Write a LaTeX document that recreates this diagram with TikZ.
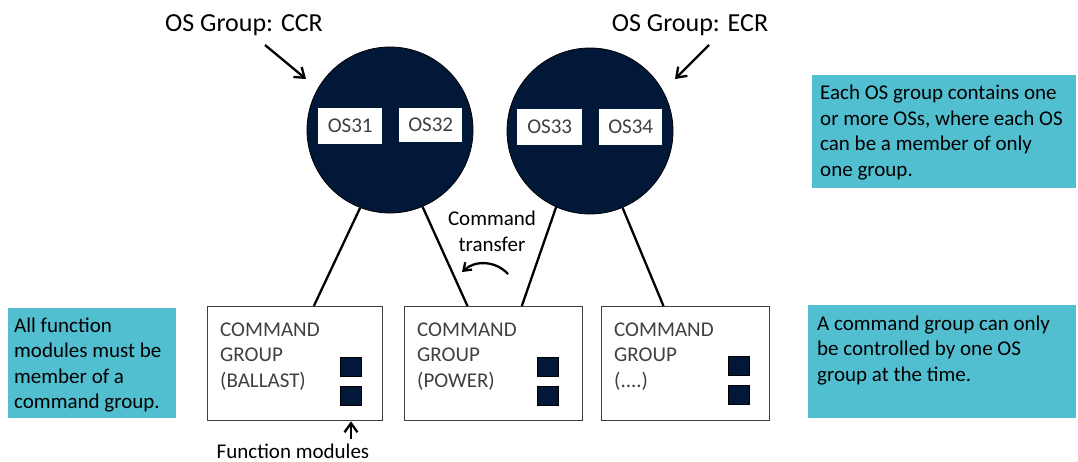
\documentclass[tikz,border=0pt]{standalone}
\usepackage{fontspec}
\setmainfont{Carlito}
\usetikzlibrary{arrows.meta,calc}
\definecolor{navy}{HTML}{011839}
\definecolor{tealbox}{HTML}{52BFD1}
\definecolor{txtgray}{HTML}{404040}
\newcommand\mylines[1]{\begin{tabular}[t]{@{}l@{}}#1\end{tabular}}
\newcommand\mylinesc[1]{\begin{tabular}[t]{@{}c@{}}#1\end{tabular}}
\begin{document}
\begin{tikzpicture}[x=1pt,y=-1pt,
  txt/.style={inner sep=0pt, anchor=base west, font=\fontsize{21}{25.5}\selectfont},
  title/.style={inner sep=0pt, anchor=base, font=\fontsize{26}{31}\selectfont},
  osgroup/.style={circle, minimum size=166pt, inner sep=0pt, fill=navy, draw=black, line width=0.8pt},
  osbox/.style={rectangle, anchor=north west, inner sep=0pt, fill=white, text=txtgray, font=\fontsize{21}{25.5}\selectfont},
  cmdbox/.style={rectangle, anchor=north west, inner sep=0pt, draw=txtgray, line width=1.3pt, fill=white, minimum height=114pt},
  fmod/.style={rectangle, anchor=north west, inner sep=0pt, fill=navy, draw=black, line width=0.4pt, minimum width=21pt, minimum height=18.5pt},
  note/.style={rectangle, anchor=north west, inner sep=0pt, fill=tealbox},
  link/.style={draw=black, line width=2.3pt},
  arr/.style={draw=black, line width=2.3pt, -{Straight Barb[length=9pt,width=13pt,line width=2.3pt]}},
  arrs/.style={draw=black, line width=2.3pt, -{Straight Barb[length=7pt,width=10pt,line width=2.3pt]}}
]
\useasboundingbox (0,0) rectangle (1078,462);

% titles
\node[title] (tccr) at (244,32) {OS Group: CCR};
\node[title] (tecr) at (690,32) {OS Group: ECR};

% OS groups
\node[osgroup] (cA) at (390,130) {};
\node[osgroup] (cB) at (590,131) {};

\node[osbox, minimum width=64pt, minimum height=36pt] (os31) at (318,108) {OS31};
\node[osbox, minimum width=63pt, minimum height=34pt] (os32) at (399,108) {OS32};
\node[osbox, minimum width=65pt, minimum height=36pt] (os33) at (517,109) {OS33};
\node[osbox, minimum width=63pt, minimum height=36pt] (os34) at (599,109) {OS34};

% arrows to groups
\coordinate (ccrTail) at (265,45);
\coordinate (ccrTip) at (306,79);
\coordinate (ecrTail) at (709,45);
\coordinate (ecrTip) at (675,79);
\draw[arr] (ccrTail) -- (ccrTip);
\draw[arr] (ecrTail) -- (ecrTip);

% command group boxes
\node[cmdbox, minimum width=175pt] (b1) at (207,306) {};
\node[cmdbox, minimum width=178pt] (b2) at (404,306) {};
\node[cmdbox, minimum width=168pt] (b3) at (601,306) {};

\node[txt, text=txtgray] (b1t) at (220,336) {\mylines{COMMAND\\GROUP\\(BALLAST)}};
\node[txt, text=txtgray] (b2t) at (417,336) {\mylines{COMMAND\\GROUP\\(POWER)}};
\node[txt, text=txtgray] (b3t) at (614,336) {\mylines{COMMAND\\GROUP\\(....)}};

% function modules
\node[fmod] (f11) at (340,357) {};
\node[fmod] (f12) at (340,386) {};
\node[fmod] (f21) at (537,357) {};
\node[fmod] (f22) at (537,386) {};
\node[fmod] (f31) at (728,356) {};
\node[fmod] (f32) at (728,385) {};

% links
\draw[link] (cA.249) -- ($(b1.north west)!0.606!(b1.north east)$);
\draw[link] (cA.293) -- ($(b2.north west)!0.354!(b2.north east)$);
\draw[link] (cB.246.5) -- ($(b2.north west)!0.657!(b2.north east)$);
\draw[link] (cB.293.5) -- ($(b3.north west)!0.369!(b3.north east)$);

% command transfer
\node[txt, anchor=base] (ctxt) at (492,226) {\mylinesc{Command\\transfer}};
\coordinate (ctA) at (508,274);
\coordinate (ctB) at (462,272);
\draw[arrs] (ctA) to[bend right=45] (ctB);

% function modules label
\node[txt, anchor=base] (fml) at (293,458) {Function modules};
\coordinate (fmTail) at (351,439);
\draw[arr] (fmTail) -- (fmTail |- b1.south);

% notes
\node[note, minimum width=264pt, minimum height=113pt] (n1) at (812,75) {};
\node[txt] (n1t) at (820,100) {\mylines{Each OS group contains one\\or more OSs, where each OS\\can be a member of only\\one group.}};

\node[note, minimum width=268pt, minimum height=113pt] (n2) at (808,305) {};
\node[txt] (n2t) at (817,330) {\mylines{A command group can only\\be controlled by one OS\\group at the time.}};

\node[note, minimum width=168pt, minimum height=110pt] (n3) at (8,308) {};
\node[txt] (n3t) at (14,332) {\mylines{All function\\modules must be\\member of a\\command group.}};
\end{tikzpicture}
\end{document}
